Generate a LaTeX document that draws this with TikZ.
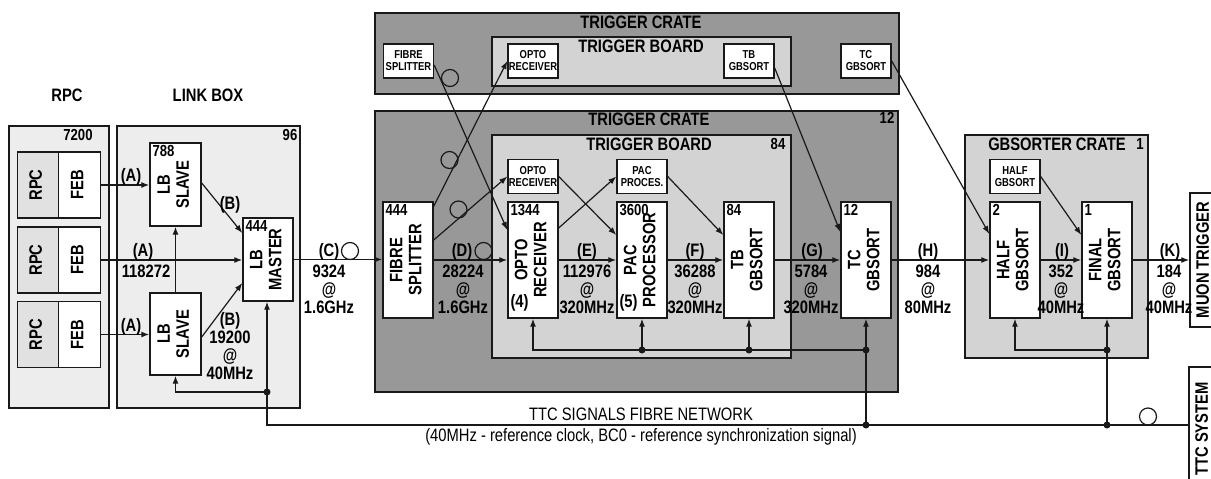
\documentclass[tikz,border=0pt]{standalone}
\usepackage{fontspec}
\setmainfont{Liberation Sans}[FakeStretch=0.82]
\usepackage{tikz}
\usetikzlibrary{arrows.meta, calc}
\definecolor{crategray}{RGB}{152,152,152}
\definecolor{boardgray}{RGB}{211,211,211}
\definecolor{baygray}{RGB}{237,237,237}
\definecolor{cellgray}{RGB}{225,225,225}
\definecolor{inkdark}{RGB}{25,25,25}
\newcommand{\mainsize}{\fontsize{18}{19}\selectfont\bfseries}
\newcommand{\minisize}{\fontsize{11.5}{12}\selectfont\bfseries}
\newcommand{\numsize}{\fontsize{16}{17}\selectfont\bfseries}
\newcommand{\vlbl}[1]{\rotatebox{90}{\begin{tabular}{@{}c@{}}#1\end{tabular}}}
\tikzset{
  crate/.style={draw=inkdark, fill=crategray, line width=1.1pt},
  board/.style={draw=inkdark, fill=boardgray, line width=1.1pt},
  bay/.style={draw=inkdark, fill=baygray, line width=1.1pt},
  unit/.style={rectangle, draw=inkdark, fill=white, line width=1.4pt,
    inner sep=0pt, minimum width=50pt, minimum height=116pt, font=\mainsize},
  mini/.style={unit, minimum height=34pt, align=center, font=\minisize},
  cell/.style={unit, minimum width=41.5pt, minimum height=66pt},
  title/.style={font=\mainsize, inner sep=0pt},
  rate/.style={font=\fontsize{18}{18}\selectfont\bfseries, align=center, inner sep=0pt},
  num/.style={font=\numsize, inner sep=3pt},
  note/.style={font=\fontsize{18}{19}\selectfont, inner sep=0pt},
  arrow/.style={-{Latex[length=8pt,width=6pt]}, line width=1.2pt, color=inkdark},
  line/.style={line width=1.2pt, color=inkdark},
  junc/.style={circle, fill=inkdark, inner sep=0pt, minimum size=7pt},
  fibreloop/.style={circle, draw=inkdark, line width=1.2pt, inner sep=0pt, minimum size=17pt}
}

\begin{document}
\begin{tikzpicture}[x=1pt, y=-1pt]
  \path[use as bounding box] (0,0) rectangle (1211,479);
  \clip (0,0) rectangle (1211,479);
  \fill[white] (0,0) rectangle (1211,479);

  % --- RPC chambers ---
  \draw[bay] (9,126) rectangle (109,408);
  \node[title] (hdrRPC) at (67,95) {RPC};
  \node[num] (nRPC) at (78,135) {7200};
  \node[cell, fill=cellgray] (rpc1) at (38,185) {\vlbl{RPC}};
  \node[cell] (feb1) at (79.5,185) {\vlbl{FEB}};
  \node[cell, fill=cellgray] (rpc2) at (38,260) {\vlbl{RPC}};
  \node[cell] (feb2) at (79.5,260) {\vlbl{FEB}};
  \node[cell, fill=cellgray] (rpc3) at (38,334.5) {\vlbl{RPC}};
  \node[cell] (feb3) at (79.5,334.5) {\vlbl{FEB}};

  % --- Link box ---
  \draw[bay] (117,126) rectangle (300,408);
  \node[title] (hdrLB) at (208,95) {LINK BOX};
  \node[num] (nLB) at (290,135) {96};
  \node[unit, minimum width=51pt, minimum height=83pt] (slaveA) at (175.5,184.5) {\vlbl{LB\\SLAVE}};
  \node[unit, minimum width=51pt, minimum height=82pt] (slaveB) at (175.5,334) {\vlbl{LB\\SLAVE}};
  \node[unit, minimum height=83pt] (master) at (268,259.5) {\vlbl{LB\\MASTER}};
  \node[num, anchor=north west] (n788) at (slaveA.north west) {788};
  \node[num, anchor=north west] (n444a) at (master.north west) {444};

  \draw[arrow] (feb1.east) -- (feb1.east -| slaveA.west);
  \draw[arrow] (feb2.east) -- (feb2.east -| master.west);
  \draw[arrow] (feb3.east) -- (feb3.east -| slaveB.west);
  \draw[arrow] (slaveB.north) -- (slaveA.south);
  \draw[arrow] ([yshift=1.5pt]slaveA.east) -- ([yshift=26.5pt]master.west);
  \draw[arrow] ([yshift=-3pt]slaveB.east) -- ([yshift=-23.5pt]master.west);
  \node[title, anchor=base] (lA1) at (131,181) {(A)};
  \node[title, anchor=base] (lA2) at (143,256) {(A)};
  \node[rate, anchor=north] (r118) at (146,265) {118272};
  \node[title, anchor=base] (lA3) at (131,331) {(A)};
  \node[title] (lB1) at (230,205) {(B)};
  \node[rate, anchor=north] (rB2) at (230,312) {(B)\\19200\\@\\40MHz};

  % --- Trigger crate (top) ---
  \draw[crate] (375,13) rectangle (899,94);
  \draw[board] (492,37) rectangle (791,86);
  \node[title] (hdrTC0) at (641,22) {TRIGGER CRATE};
  \node[title] (hdrTB0) at (641,46) {TRIGGER BOARD};
  \node[mini] (tFS) at (408.5,61) {FIBRE\\SPLITTER};
  \node[mini] (tOR) at (533,61) {OPTO\\RECEIVER};
  \node[mini] (tTB) at (749,61) {TB\\GBSORT};
  \node[mini] (tTC) at (866,61) {TC\\GBSORT};

  % --- Trigger crate ---
  \draw[crate] (375,111) rectangle (898,392);
  \draw[board] (492,135) rectangle (791,358);
  \node[title] (hdrTC) at (649,119) {TRIGGER CRATE};
  \node[title] (hdrTB) at (649,144) {TRIGGER BOARD};
  \node[num] (nTC) at (887,118) {12};
  \node[num] (nTB) at (778,144) {84};
  \node[unit] (splitter) at (408,260) {\vlbl{FIBRE\\SPLITTER}};
  \node[mini] (sOR) at (533,176.5) {OPTO\\RECEIVER};
  \node[unit] (opto) at (533,260) {\vlbl{OPTO\\RECEIVER}};
  \node[mini] (sPAC) at (642,176.5) {PAC\\PROCES.};
  \node[unit] (pac) at (642,260) {\vlbl{PAC\\PROCESSOR}};
  \node[unit] (tbsort) at (749,260) {\vlbl{TB\\GBSORT}};
  \node[unit] (tcsort) at (866,260) {\vlbl{TC\\GBSORT}};
  \node[num, anchor=north west] (n444b) at (splitter.north west) {444};
  \node[num, anchor=north west] (n1344) at (opto.north west) {1344};
  \node[num, anchor=north west] (n3600) at (pac.north west) {3600};
  \node[num, anchor=north west] (n84) at (tbsort.north west) {84};
  \node[num, anchor=north west] (n12) at (tcsort.north west) {12};
  \node[title, anchor=south west] (tag4) at ([shift={(3pt,7pt)}]opto.south west) {(4)};
  \node[title, anchor=south west] (tag5) at ([shift={(3pt,7pt)}]pac.south west) {(5)};

  % fibre links between crates
  \draw[arrow] ([yshift=-4pt]tFS.east) -- ([yshift=30pt]opto.west);
  \draw[arrow] ([yshift=-5pt]splitter.north east) -- (tOR.west);
  \draw[arrow] ([yshift=20pt]splitter.east) -- (sOR.west);
  \draw[arrow] (sOR.east) -- ([yshift=25pt]pac.west);
  \draw[arrow] ([yshift=32pt]opto.east) -- (sPAC.west);
  \draw[arrow] (sPAC.east) -- ([yshift=25pt]tbsort.west);
  \draw[arrow] ([yshift=-7pt]tTB.east) -- ([yshift=28pt]tcsort.west);
  \node[fibreloop] (loop1) at (450,78) {};
  \node[fibreloop] (loop2) at (449.5,160) {};
  \node[fibreloop] (loop3) at (458.5,209.5) {};

  % --- GBSORTER crate ---
  \draw[board] (965,135) rectangle (1148,358);
  \node[title] (hdrGB) at (1057,144) {GBSORTER CRATE};
  \node[num] (nGB) at (1140,144) {1};
  \node[mini] (sHALF) at (1015,176.5) {HALF\\GBSORT};
  \node[unit] (half) at (1015,260) {\vlbl{HALF\\GBSORT}};
  \node[unit] (final) at (1107,260) {\vlbl{FINAL\\GBSORT}};
  \node[num, anchor=north west] (n2) at (half.north west) {2};
  \node[num, anchor=north west] (n1) at (final.north west) {1};
  \node[unit, minimum width=30pt, minimum height=134pt] (muon) at (1205,260) {\vlbl{MUON TRIGGER}};
  \node[unit, minimum width=30pt, minimum height=124pt] (ttcsys) at (1204,429) {\vlbl{TTC SYSTEM}};
  \draw[arrow] (tTC.east) -- ([yshift=26pt]half.west);
  \draw[arrow] (sHALF.east) -- ([yshift=25pt]final.west);

  % --- Data path ---
  \draw[arrow] (master.east) -- (master.east -| splitter.west);
  \draw[arrow] (splitter.east) -- (opto.west);
  \draw[arrow] (opto.east) -- (pac.west);
  \draw[arrow] (pac.east) -- (tbsort.west);
  \draw[arrow] (tbsort.east) -- (tcsort.west);
  \draw[arrow] (tcsort.east) -- (half.west);
  \draw[arrow] (half.east) -- (final.west);
  \draw[arrow] (final.east) -- (muon.west);
  \node[fibreloop] (loopC) at (350,251) {};
  \node[fibreloop] (loopD) at (483.5,251) {};

  \node[title, anchor=base] (lC) at (329,256) {(C)};
  \node[rate, anchor=north] (rC) at (329,265) {9324\\@\\1.6GHz};
  \node[title, anchor=base] (lD) at (462,256) {(D)};
  \node[rate, anchor=north] (rD) at (463,265) {28224\\@\\1.6GHz};
  \node[title, anchor=base] (lE) at (587,256) {(E)};
  \node[rate, anchor=north] (rE) at (587,265) {112976\\@\\320MHz};
  \node[title, anchor=base] (lF) at (695,256) {(F)};
  \node[rate, anchor=north] (rF) at (695,265) {36288\\@\\320MHz};
  \node[title, anchor=base] (lG) at (812,256) {(G)};
  \node[rate, anchor=north] (rG) at (811,265) {5784\\@\\320MHz};
  \node[title, anchor=base] (lH) at (928,256) {(H)};
  \node[rate, anchor=north] (rH) at (928,265) {984\\@\\80MHz};
  \node[title, anchor=base] (lI) at (1062,256) {(I)};
  \node[rate, anchor=north] (rI) at (1061,265) {352\\@\\40MHz};
  \node[title, anchor=base] (lK) at (1170,256) {(K)};
  \node[rate, anchor=north] (rK) at (1169,265) {184\\@\\40MHz};

  % --- TTC distribution ---
  \coordinate (ttcL) at (267,425);
  \coordinate (lbJ) at (267,392);
  \coordinate (fbrow) at (0,350);
  \draw[line] (lbJ) -- (ttcL) -- (ttcL -| ttcsys.west);
  \draw[arrow] (lbJ) -| (slaveB.south);
  \draw[arrow] (lbJ) -- (lbJ |- master.south);
  \node[junc] (dotLB) at (lbJ) {};

  \coordinate (tcJ) at (tcsort.south |- fbrow);
  \coordinate (pacJ) at (pac.south |- fbrow);
  \coordinate (tbJ) at (tbsort.south |- fbrow);
  \draw[arrow] (tcJ) -| (opto.south);
  \draw[arrow] (pacJ) -- (pac.south);
  \draw[arrow] (tbJ) -- (tbsort.south);
  \draw[arrow] (tcsort.south |- ttcL) -- (tcsort.south);
  \node[junc] (dotPAC) at (pacJ) {};
  \node[junc] (dotTB) at (tbJ) {};
  \node[junc] (dotTC) at (tcJ) {};
  \node[junc] (dotTCL) at (tcsort.south |- ttcL) {};

  \coordinate (gbJ) at (final.south |- fbrow);
  \draw[arrow] (gbJ) -| (half.south);
  \draw[arrow] (final.south |- ttcL) -- (final.south);
  \node[junc] (dotGB) at (gbJ) {};
  \node[junc] (dotGBL) at (final.south |- ttcL) {};
  \node[fibreloop] (loopT) at (1148,416.5) {};

  \node[note] (ttcA) at (641,414) {TTC SIGNALS FIBRE NETWORK};
  \node[note] (ttcB) at (641,437) {(40MHz - reference clock, BC0 - reference synchronization signal)};
\end{tikzpicture}
\end{document}
